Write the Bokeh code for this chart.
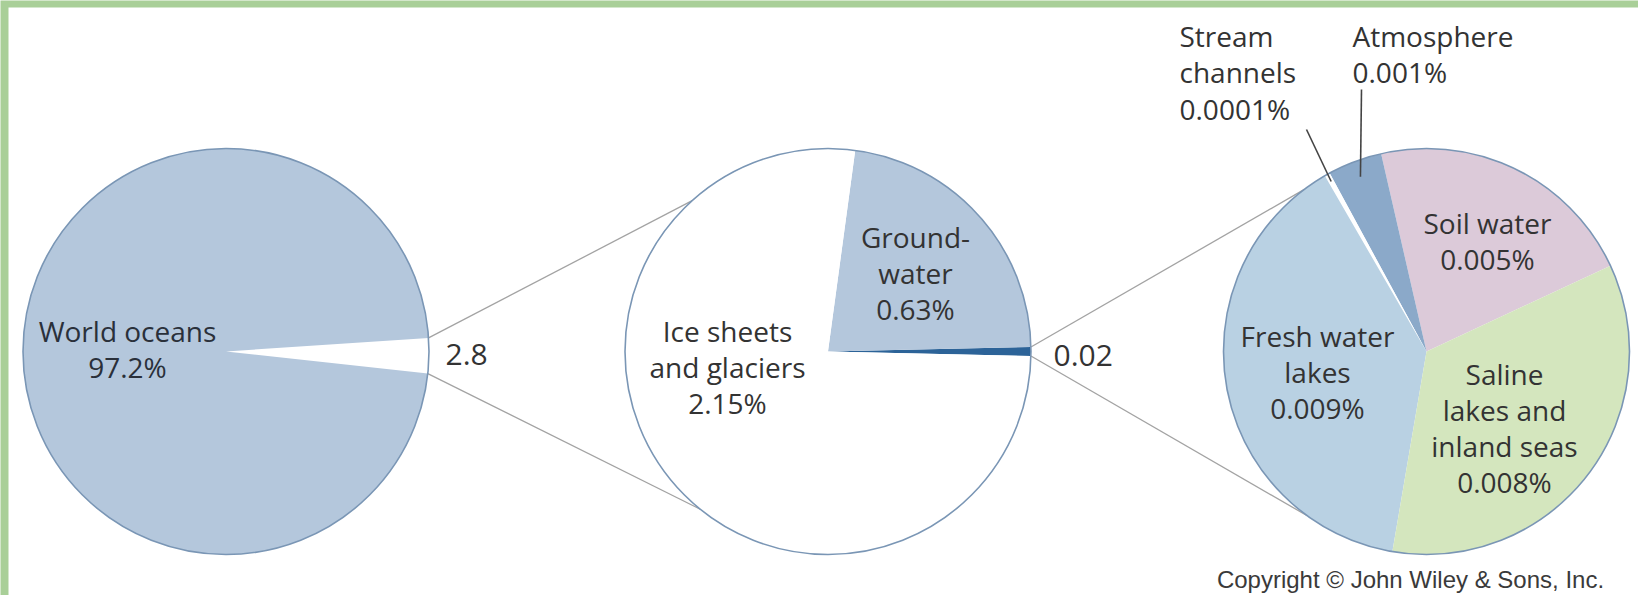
import math
from bokeh.plotting import figure
from bokeh.models import Range1d
from bokeh.embed import file_html
from bokeh.resources import INLINE
from bokeh.core.properties import value

# ---------------- data ----------------
l1_names = ["Other water", "World oceans"]
l1_values = [2.8, 97.2]
l1_colors = ["#ffffff", "#b4c7dc"]

l2_names = ["Surface and atmospheric water", "Groundwater", "Ice sheets and glaciers"]
l2_values = [0.02, 0.63, 2.15]
l2_colors = ["#2c6398", "#b4c7dc", "#ffffff"]

l3_names = ["Soil water", "Atmosphere", "Stream channels", "Fresh water lakes",
            "Saline lakes and inland seas"]
l3_values = [0.005, 0.001, 0.0001, 0.009, 0.008]
l3_colors = ["#dccad9", "#8ba9c9", "#ffffff", "#b9d1e3", "#d4e6be"]

copyright_text = "Copyright \u00a9 John Wiley & Sons, Inc."

# ---------------- layout ----------------
W, H = 1638, 595
def sy(y):
    return H - y

C1 = (225.5, sy(351)); R1 = 203
C2 = (827.5, sy(351)); R2 = 203
C3 = (1426.0, sy(351)); R3 = 203

def fmt(v):
    s = ("%.4f" % v).rstrip("0").rstrip(".")
    return s

def slices(values, start):
    tot = sum(values)
    out = []
    a = start
    for v in values:
        span = 360.0 * v / tot
        out.append((a, a + span))
        a += span
    return out

s1 = slices(l1_values, -1.2 - 360.0 * l1_values[0] / sum(l1_values) / 2)
s2 = slices(l2_values, -360.0 * l2_values[0] / sum(l2_values) / 2)
s3 = slices(l3_values, 25.0)

def on_circle(c, r, ang):
    return (c[0] + r * math.cos(math.radians(ang)), c[1] + r * math.sin(math.radians(ang)))

p = figure(width=W, height=H, x_range=Range1d(0, W), y_range=Range1d(0, H),
           output_backend="svg", toolbar_location=None, min_border=0)
p.axis.visible = False
p.grid.visible = False
p.outline_line_color = None
p.background_fill_color = "#a9cf98"
p.border_fill_color = "#a9cf98"

# white panel
p.quad(left=[8], right=[W], bottom=[0], top=[sy(7)], fill_color="#ffffff", line_color=None)

# connector lines (from the small slice of one pie to the outline of the next)
conn = []
a_lo, a_hi = s1[0]
conn.append((on_circle(C1, R1, a_hi), on_circle(C2, R2, 132)))
conn.append((on_circle(C1, R1, a_lo), on_circle(C2, R2, 231)))
b_lo, b_hi = s2[0]
conn.append((on_circle(C2, R2, b_hi), on_circle(C3, R3, 127)))
conn.append((on_circle(C2, R2, b_lo), on_circle(C3, R3, 234)))
p.segment(x0=[c[0][0] for c in conn], y0=[c[0][1] for c in conn],
          x1=[c[1][0] for c in conn], y1=[c[1][1] for c in conn],
          line_color="#a3a3a3", line_width=1.3)

def draw_pie(c, r, sl, colors):
    p.wedge(x=[c[0]] * len(sl), y=[c[1]] * len(sl), radius=r,
            start_angle=[math.radians(s[0]) for s in sl],
            end_angle=[math.radians(s[1]) for s in sl],
            fill_color=colors, line_color=None)
    p.circle(x=[c[0]], y=[c[1]], radius=r, fill_color=None,
             line_color="#7a96b5", line_width=1.6)

draw_pie(C1, R1, s1, l1_colors)
draw_pie(C2, R2, s2, l2_colors)
draw_pie(C3, R3, s3, l3_colors)

# pointer lines for the small slices
st_mid = sum(s3[2]) / 2
at_mid = sum(s3[1]) / 2
st_end = on_circle(C3, R3 * 0.96, st_mid)
at_end = on_circle(C3, R3 * 0.92, at_mid)
p.segment(x0=[1306, 1361], y0=[sy(129), sy(89)], x1=[st_end[0], at_end[0]],
          y1=[st_end[1], at_end[1]], line_color="#444444", line_width=1.6)

FONT = value("Open Sans")
TC = "#333333"

def ctext(xs, ys, texts, size="28px", align="center", color=TC):
    p.text(x=xs, y=[sy(v) for v in ys], text=texts, text_font=FONT,
           text_font_size=size, text_align=align, text_baseline="middle",
           text_color=color)

# level 1 label
ctext([127, 127], [330, 366], ["World oceans", fmt(l1_values[1]) + "%"], color="#2a303a")
ctext([445], [354], [fmt(l1_values[0])], size="30px", align="left")

# level 2 labels
ctext([727, 727, 727], [330, 366, 402], ["Ice sheets", "and glaciers", fmt(l2_values[2]) + "%"])
ctext([915, 915, 915], [236, 272, 308], ["Ground-", "water", fmt(l2_values[1]) + "%"])
ctext([1053], [355], [fmt(l2_values[0])], size="30px", align="left")

# level 3 labels
ctext([1179, 1179, 1179], [35, 71, 108], ["Stream", "channels", fmt(l3_values[2]) + "%"], align="left")
ctext([1352, 1352], [35, 71], ["Atmosphere", fmt(l3_values[1]) + "%"], align="left")
ctext([1487, 1487], [222, 258], ["Soil water", fmt(l3_values[0]) + "%"])
ctext([1317, 1317, 1317], [335, 371, 407], ["Fresh water", "lakes", fmt(l3_values[3]) + "%"])
ctext([1504] * 4, [373, 409, 445, 481], ["Saline", "lakes and", "inland seas", fmt(l3_values[4]) + "%"])

p.text(x=[1410], y=[sy(579)], text=[copyright_text], text_font=value("Liberation Sans"),
       text_font_size="24px", text_align="center", text_baseline="middle", text_color="#3a3a3a")

open("out.html", "w").write(file_html(p, INLINE))
